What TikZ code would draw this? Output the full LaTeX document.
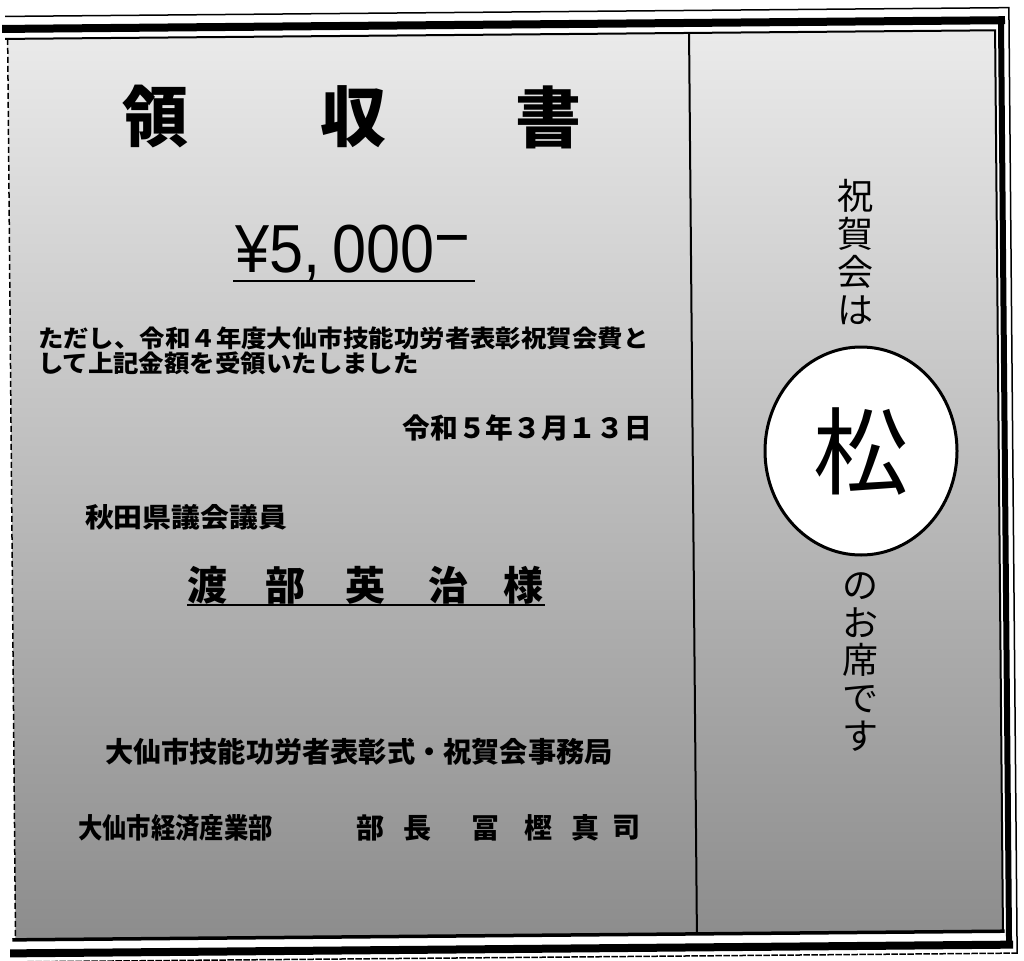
\documentclass[tikz,border=0pt]{standalone}
\usepackage{fontspec}
\usetikzlibrary{shapes.geometric}
\newfontfamily\jp{Noto Sans CJK JP}
\newfontfamily\lat{Liberation Sans}
\newcommand\fsz[1]{\fontsize{#1}{#1}\selectfont}
\begin{document}
\begin{tikzpicture}[x=1pt,y=-1pt,
  txt/.style={inner sep=0pt,outer sep=0pt,text=black},
  bjp/.style={txt,font=\jp\bfseries\fsz{#1}},
  rjp/.style={txt,font=\jp\fsz{#1}},
  uline/.style={line width=2.5pt,black},
  frame/.style={black,line cap=rect}]
\fill[white] (0,0) rectangle (1024,960);
\useasboundingbox (0,0) rectangle (1024,960);
% ---- frame (scan is slightly rotated) ----
\begin{scope}[rotate around={0.5:(512,480)}]
  \shade[top color=black!8,bottom color=black!45] (11.5,34.5) rectangle (999,935.5);
  \draw[frame,line width=1.5pt] (10,12) -- (1013,12) -- (1013,957.5);
  \draw[frame,line width=1.5pt,dash pattern=on 5pt off 3pt] (1013,957.5) -- (10,957.5);
  \draw[frame,line width=8pt] (10,24.5) -- (1005,24.5);
  \draw[frame,line width=6pt] (1005,24.5) -- (1005,949);
  \draw[frame,line width=8pt] (1005,949) -- (10,949);
  \draw[frame,line width=2pt] (10,34.5) -- (999,34.5) -- (999,935.5);
  \draw[frame,line width=3.5pt] (999,935.5) -- (10,935.5);
  \draw[black,line width=1.5pt,dash pattern=on 6pt off 3pt] (11.5,34.5) -- (11.5,935.5);
  \coordinate (dvt) at (693,34.5);
  \coordinate (dvb) at (693,935.5);
  \draw[black,line width=2pt] (dvt) -- (dvb);
\end{scope}
% ---- title ----
\node[bjp=66] (ry) at (155,117) {領};
\node[bjp=66] (sh) at (353,117) {収};
\node[bjp=66] (so) at (548,117) {書};
% ---- amount ----
\node[txt,anchor=base west,font=\lat\fsz{68}] (amt) at (235,272)
  {\scalebox{0.9}[1]{¥5,\kern14pt 000\raisebox{0.17em}{−}}};
\coordinate (ua) at (233,281);
\coordinate (ub) at (475,281);
\draw[uline] (ua) -- (ub);
% ---- body ----
\node[bjp=24,anchor=west] (d1) at (38,338) {\scalebox{1.06}[1]{ただし、令和４年度大仙市技能功労者表彰祝賀会費と}};
\node[bjp=24,anchor=west] (d2) at (38,363) {\scalebox{1.06}[1]{して上記金額を受領いたしました}};
\node[bjp=27.7,anchor=east] (date) at (652,428) {令和５年３月１３日};
\node[bjp=27,anchor=west] (gi) at (85,517) {\scalebox{1.07}[1]{秋田県議会議員}};
% ---- name ----
\node[bjp=40] (n1) at (207,585) {渡};
\node[bjp=40] (n2) at (285,585) {部};
\node[bjp=40] (n3) at (365,585) {英};
\node[bjp=40] (n4) at (448,585) {治};
\node[bjp=40] (n5) at (523,585) {様};
\coordinate (uc) at (187,605);
\coordinate (ud) at (545,605);
\draw[uline] (uc) -- (ud);
% ---- issuer ----
\node[bjp=28.2,anchor=west] (jm) at (105,752) {大仙市技能功労者表彰式・祝賀会事務局};
\node[bjp=28,anchor=west] (bu) at (78,828) {\scalebox{0.87}[1]{大仙市経済産業部}};
\node[bjp=28] (k1) at (370,828) {部};
\node[bjp=28] (k2) at (417,828) {長};
\node[bjp=28] (k3) at (485,828) {冨};
\node[bjp=28] (k4) at (538,828) {樫};
\node[bjp=28] (k5) at (585,828) {真};
\node[bjp=28] (k6) at (626,828) {司};
% ---- right panel ----
\node[txt,font=\jp\fontsize{36}{37.7}\selectfont,align=center] (v1) at (855,252) {祝\\賀\\会\\は};
\node[ellipse,draw=black,line width=3pt,fill=white,minimum width=192pt,minimum height=208pt,
      inner sep=0pt,font=\jp\fsz{95}] (matsu) at (861,451) {松};
\node[txt,font=\jp\fontsize{36}{37.7}\selectfont,align=center] (v2) at (860,662) {の\\お\\席\\で\\す};
\end{tikzpicture}
\end{document}
